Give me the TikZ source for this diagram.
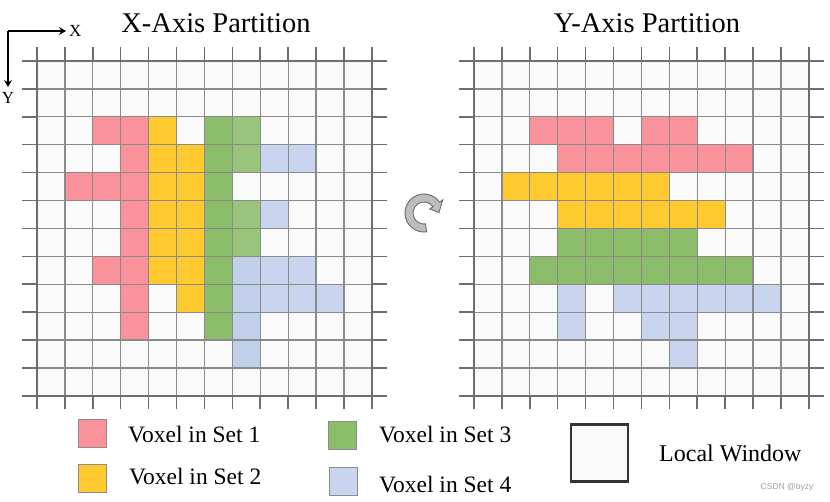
\documentclass[tikz,border=0pt]{standalone}
\usepackage{fontspec}
\setmainfont{Liberation Serif}
\newfontfamily\markfont{Liberation Sans}
\usepackage{xcolor}
\usepackage{tikz}
\usetikzlibrary{positioning, arrows.meta}
\definecolor{cellbg}{HTML}{FAFAFA}
\definecolor{gridline}{HTML}{8A8A8A}
\definecolor{gridedge}{HTML}{6E6E6E}
\definecolor{setone}{HTML}{F9929A}
\definecolor{settwo}{HTML}{FFCA30}
\definecolor{setthree}{HTML}{8CBD6B}
\definecolor{setthreelt}{HTML}{98C47C}
\definecolor{setfour}{HTML}{C9D5EE}
\definecolor{setfourdk}{HTML}{C1D0EA}
\definecolor{swatchline}{HTML}{8C8C8C}
\definecolor{winline}{HTML}{333333}
\definecolor{rotfill}{HTML}{BDBDBD}
\definecolor{rotline}{HTML}{6A6A6A}
\definecolor{markgray}{HTML}{A0A0A0}
\def\cs{27.9}
\tikzset{
  title/.style      = {font=\fontsize{28.5}{30}\selectfont, inner sep=0pt, anchor=base},
  axlabel/.style    = {font=\fontsize{17}{18}\selectfont, inner sep=0pt, anchor=base},
  legtext/.style    = {font=\fontsize{23.5}{25}\selectfont, inner sep=0pt, anchor=base west},
  swatch/.style     = {rectangle, draw=swatchline, line width=1pt,
                       minimum size=28pt, inner sep=0pt},
  winbox/.style     = {rectangle, draw=winline, line width=2.2pt, fill=cellbg,
                       minimum size=57pt, inner sep=0pt},
  gridinner/.style  = {draw=gridline, line width=1.2pt},
  gridtick/.style   = {draw=gridedge, line width=1.5pt},
  gridframe/.style  = {draw=gridedge, line width=2.6pt},
  ar/.style         = {-{Stealth[length=7pt,width=8pt,inset=2.5pt]}, line width=1.2pt, draw=black},
}

\begin{document}
\begin{tikzpicture}[x=1pt, y=-1pt]
  \useasboundingbox (0,0) rectangle (830,501);

  % titles and axes
  \node[title] (xtitle) at (216,32.5) {X-Axis Partition};
  \node[title] (ytitle) at (647,32.5) {Y-Axis Partition};
  \coordinate (orig) at (8,31);
  \coordinate (xend) at (66,31);
  \coordinate (yend) at (8,87);
  \node[axlabel, anchor=base west] (xlab) at (69,36) {X};
  \node[axlabel] (ylab) at (8,103) {Y};
  \draw[ar] (orig) -- (xend);
  \draw[ar] (orig) -- (yend);

  % cell backgrounds
  \foreach \gx in {37,474}
    \fill[cellbg] (\gx,61) rectangle ++({12*\cs},{12*\cs});

  % X-axis partition
  \foreach \c/\r in {2/2,3/2,3/3,1/4,2/4,3/4,3/5,3/6,2/7,3/7,3/8,3/9}
    \fill[setone] ({37+\c*\cs},{61+\r*\cs}) rectangle ++(\cs,\cs);
  \foreach \c/\r in {4/2,4/3,5/3,4/4,5/4,4/5,5/5,4/6,5/6,4/7,5/7,5/8}
    \fill[settwo] ({37+\c*\cs},{61+\r*\cs}) rectangle ++(\cs,\cs);
  \foreach \c/\r in {6/2,6/3,6/4,6/5,6/6,6/7,6/8,6/9}
    \fill[setthree] ({37+\c*\cs},{61+\r*\cs}) rectangle ++(\cs,\cs);
  \foreach \c/\r in {7/2,7/3,7/5,7/6}
    \fill[setthreelt] ({37+\c*\cs},{61+\r*\cs}) rectangle ++(\cs,\cs);
  \foreach \c/\r in {8/3,9/3,8/5,8/7,9/7,8/8,9/8,10/8}
    \fill[setfour] ({37+\c*\cs},{61+\r*\cs}) rectangle ++(\cs,\cs);
  \foreach \c/\r in {7/7,7/8,7/9,7/10}
    \fill[setfourdk] ({37+\c*\cs},{61+\r*\cs}) rectangle ++(\cs,\cs);

  % Y-axis partition
  \foreach \c/\r in {2/2,3/2,4/2,6/2,7/2,3/3,4/3,5/3,6/3,7/3,8/3,9/3}
    \fill[setone] ({474+\c*\cs},{61+\r*\cs}) rectangle ++(\cs,\cs);
  \foreach \c/\r in {1/4,2/4,3/4,4/4,5/4,6/4,3/5,4/5,5/5,6/5,7/5,8/5}
    \fill[settwo] ({474+\c*\cs},{61+\r*\cs}) rectangle ++(\cs,\cs);
  \foreach \c/\r in {3/6,4/6,5/6,6/6,7/6,2/7,3/7,4/7,5/7,6/7,7/7,8/7,9/7}
    \fill[setthree] ({474+\c*\cs},{61+\r*\cs}) rectangle ++(\cs,\cs);
  \foreach \c/\r in {3/8,5/8,6/8,7/8,8/8,9/8,10/8,3/9,6/9,7/9,7/10}
    \fill[setfour] ({474+\c*\cs},{61+\r*\cs}) rectangle ++(\cs,\cs);

  % grid lines, ticks and frames
  \foreach \gx in {37,474}{
    \foreach \i in {1,...,11}{
      \draw[gridinner] ({\gx+\i*\cs},61) -- ++(0,{12*\cs});
      \draw[gridinner] (\gx,{61+\i*\cs}) -- ++({12*\cs},0);
    }
    \foreach \i in {0,...,12}{
      \draw[gridtick] ({\gx+\i*\cs},47) -- ++(0,14);
      \draw[gridtick] ({\gx+\i*\cs},{61+12*\cs}) -- ++(0,13);
      \draw[gridtick] ({\gx-15},{61+\i*\cs}) -- ++(15,0);
      \draw[gridtick] ({\gx+12*\cs},{61+\i*\cs}) -- ++(15,0);
    }
    \draw[gridframe] (\gx,61) rectangle ++({12*\cs},{12*\cs});
  }

  % rotation
  \begin{scope}[shift={(424,213)}]
    \filldraw[fill=rotfill, draw=rotline, line width=0.9pt]
      (82:19) arc[start angle=82, end angle=325, radius=19]
      -- (325:23) -- (358:15) -- (325:7) -- (325:11)
      arc[start angle=325, end angle=82, radius=11] -- cycle;
  \end{scope}

  % legend
  \node[swatch, fill=setone] (keyone) at (92,433) {};
  \node[swatch, fill=settwo] (keytwo) at (92,478) {};
  \node[swatch, fill=setthree] (keythree) at (342,435) {};
  \node[swatch, fill=setfour] (keyfour) at (343,481) {};
  \node[legtext] (txtone) at (128,442) {Voxel in Set 1};
  \node[legtext] (txttwo) at (129,484) {Voxel in Set 2};
  \node[legtext] (txtthree) at (379,442) {Voxel in Set 3};
  \node[legtext] (txtfour) at (379,492) {Voxel in Set 4};
  \node[winbox] (keywin) at (599.5,453) {};
  \node[legtext, font=\fontsize{24}{25}\selectfont] (txtwin) at (659,461) {Local Window};
  \node[font=\markfont\fontsize{8.5}{9}\selectfont, text=markgray, inner sep=0pt] (mark) at (787,487) {CSDN @byzy};

\end{tikzpicture}
\end{document}
